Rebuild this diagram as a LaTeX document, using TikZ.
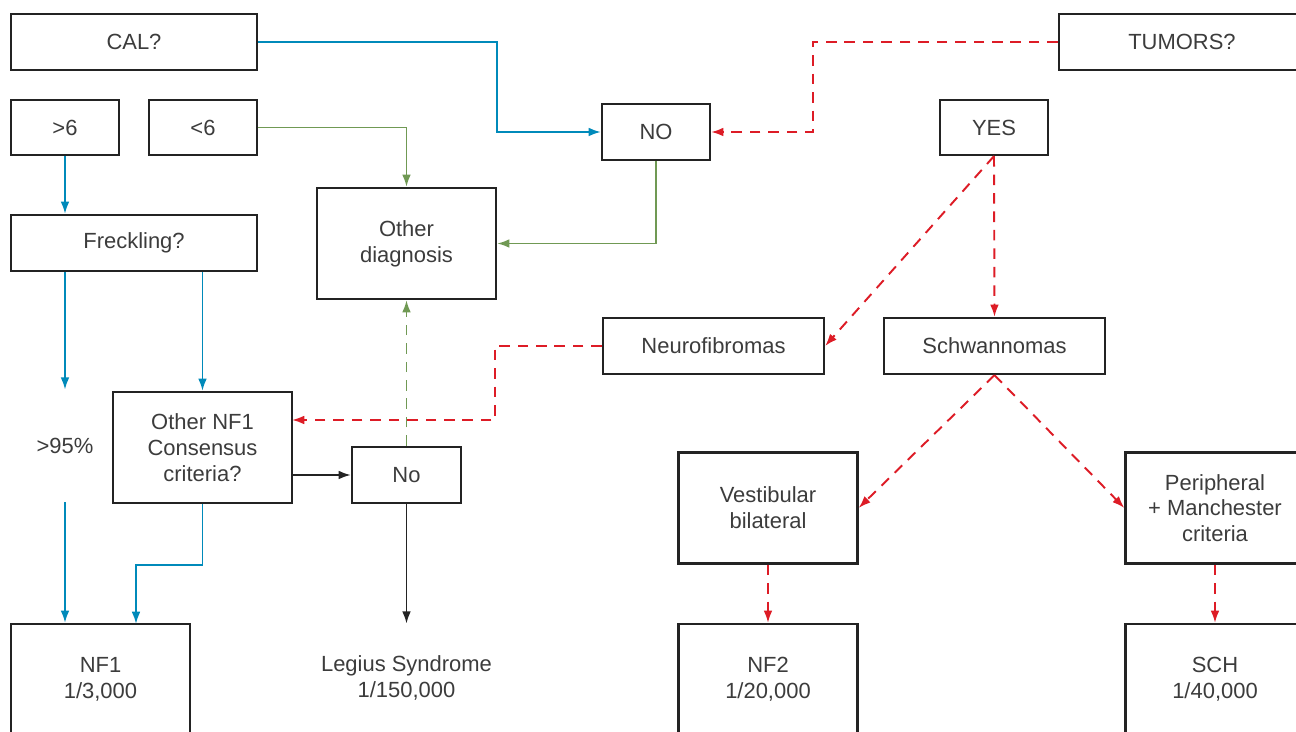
\documentclass[tikz,border=0pt]{standalone}
\usepackage{fontspec}
\setmainfont{Liberation Sans}
\usepackage{xcolor}
\usepackage{tikz}
\usetikzlibrary{arrows.meta,positioning}

\definecolor{calblue}{RGB}{0,138,186}
\definecolor{dxgreen}{RGB}{112,153,84}
\definecolor{tumred}{RGB}{221,28,38}
\definecolor{boxline}{RGB}{35,35,35}
\definecolor{txtgray}{RGB}{60,60,60}

\tikzset{
    box/.style={draw=boxline, line width=1.3pt, text=txtgray, align=center,
        inner sep=0pt, font=\fontsize{12.5}{14.7}\selectfont},
    plain/.style={text=txtgray, align=center, inner sep=0pt,
        font=\fontsize{12.5}{14.7}\selectfont},
    link/.style={line width=1.1pt, -{Latex[length=7pt,width=5pt]}},
    bluelink/.style={link, draw=calblue},
    greenlink/.style={link, draw=dxgreen},
    redlink/.style={link, draw=tumred, dash pattern=on 6pt off 4.5pt},
    blacklink/.style={link, draw=boxline}
}

\begin{document}
\begin{tikzpicture}[x=0.02cm, y=-0.02cm]
                \useasboundingbox (0,0) rectangle (1296,732);
                \clip (0,0) rectangle (1296,732);

                % left branch
                \node[box, minimum width=4.92cm, minimum height=1.12cm] (cal) at (134,42) {CAL?};
                \node[box, minimum width=2.16cm, minimum height=1.1cm] (gtsix) at (65,127.5) {>6};
                \node[box, minimum width=2.16cm, minimum height=1.1cm] (ltsix) at (203,127.5) {<6};
                \node[box, minimum width=4.92cm, minimum height=1.12cm] (freck) at (134,243) {Freckling?};
                \node[box, minimum width=3.58cm, minimum height=2.22cm] (otherdx) at (406.5,243.5) {Other\\diagnosis};
                \node[box, minimum width=3.58cm, minimum height=2.22cm] (crit) at (202.5,447.5) {Other NF1\\Consensus\\criteria?};
                \node[plain, minimum height=2.24cm] (pct) at (65,446) {>95\%};
                \node[box, minimum width=2.18cm, minimum height=1.12cm] (nobox) at (406.5,475) {No};
                \node[box, minimum width=3.58cm, minimum height=2.22cm] (nfone) at (100.5,679.5) {NF1\\1/3,000};
                \node[plain, minimum height=2.16cm] (legius) at (406.5,678) {Legius Syndrome\\1/150,000};
                \coordinate (nfonein) at (136,624);
                \coordinate (critin) at (292,420);

                % right branch
                \node[box, minimum width=2.16cm, minimum height=1.12cm] (nobig) at (656,132) {NO};
                \node[box, minimum width=4.92cm, minimum height=1.12cm] (tumors) at (1182,42) {TUMORS?};
                \node[box, minimum width=2.16cm, minimum height=1.1cm] (yes) at (994,127.5) {YES};
                \node[box, minimum width=4.42cm, minimum height=1.12cm] (neuro) at (713.5,346) {Neurofibromas};
                \node[box, minimum width=4.42cm, minimum height=1.12cm] (schw) at (994.5,346) {Schwannomas};
                \node[box, minimum width=3.58cm, minimum height=2.22cm] (vest) at (768,508) {Vestibular\\bilateral};
                \node[box, minimum width=3.58cm, minimum height=2.22cm] (periph) at (1215,508) {Peripheral\\+ Manchester\\criteria};
                \node[box, minimum width=3.58cm, minimum height=2.22cm] (nftwo) at (768,679.5) {NF2\\1/20,000};
                \node[box, minimum width=3.58cm, minimum height=2.22cm] (sch) at (1215,679.5) {SCH\\1/40,000};

                % blue
                \draw[bluelink] (cal.east) -- ++(239,0) |- (nobig.west);
                \draw[bluelink] (gtsix.south) -- (freck.north -| gtsix.south);
                \draw[bluelink] (freck.south -| pct.north) -- (pct.north);
                \draw[bluelink] (pct.south) -- (pct.south |- nfone.north);
                \draw[bluelink] (freck.south -| crit.north) -- (crit.north);
                \draw[bluelink] (crit.south) -- ++(0,61) -| (nfonein);

                % green
                \draw[greenlink] (ltsix.east) -| (otherdx.north);
                \draw[greenlink] (nobig.south) |- (otherdx.east);
                \draw[greenlink, dash pattern=on 6pt off 4.5pt] (nobox.north) -- (otherdx.south);

                % black
                \draw[blacklink] (crit.east |- nobox.west) -- (nobox.west);
                \draw[blacklink] (nobox.south) -- (legius.north);

                % red
                \draw[redlink] (tumors.west) -- ++(-245,0) |- (nobig.east);
                \draw[redlink] (yes.south) -- (neuro.east);
                \draw[redlink] (yes.south) -- (schw.north);
                \draw[redlink] (neuro.west) -- ++(-107,0) |- (critin);
                \draw[redlink] (schw.south) -- (vest.east);
                \draw[redlink] (schw.south) -- (periph.west);
                \draw[redlink] (vest.south) -- (nftwo.north);
                \draw[redlink] (periph.south) -- (sch.north);

            \end{tikzpicture}
\end{document}
